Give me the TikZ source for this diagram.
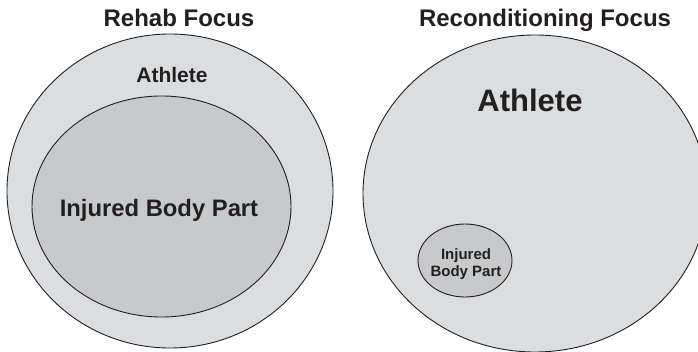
\documentclass[tikz,border=0pt]{standalone}
\usepackage{fontspec}
\setmainfont{Liberation Sans}
\usetikzlibrary{shapes.geometric}
\definecolor{athletegray}{HTML}{DCDDDF}
\definecolor{injurygray}{HTML}{C8C9CB}
\definecolor{inkblack}{HTML}{231F20}
\tikzset{
  zone/.style={draw=inkblack, ellipse, line width=0.9pt, inner sep=0pt, outer sep=0pt},
  caption/.style={anchor=base, inner sep=0pt, text=inkblack, font=\fontsize{#1}{#1}\selectfont\bfseries}
}
\begin{document}
\begin{tikzpicture}[x=1pt,y=-1pt]
  \useasboundingbox (0,0) rectangle (698,352);
  \clip (0,0) rectangle (698,352);
  % rehab side
  \node[zone, fill=athletegray, minimum width=326pt, minimum height=314pt] (rehabathlete) at (170,191) {};
  \node[zone, fill=injurygray, minimum width=259pt, minimum height=221pt] (rehabinjury) at (161.5,206.5) {};
  \node[caption=24] (rehabtitle) at (179,27) {Rehab Focus};
  \node[caption=21] (rehabathletetext) at (172,83) {Athlete};
  \node[caption=23.8] (rehabinjurytext) at (159,217) {Injured Body Part};
  % reconditioning side
  \node[zone, fill=athletegray, minimum width=344pt, minimum height=317pt] (recondathlete) at (535,193.5) {};
  \node[zone, fill=injurygray, minimum width=94pt, minimum height=73pt] (recondinjury) at (465,260.5) {};
  \node[caption=24] (recondtitle) at (545,27) {Reconditioning Focus};
  \node[caption=31] (recondathletetext) at (530,112) {Athlete};
  \node[caption=15, align=center] (recondinjurytext) at (466,276.7) {Injured\\[2.4pt]Body Part};
\end{tikzpicture}
\end{document}
